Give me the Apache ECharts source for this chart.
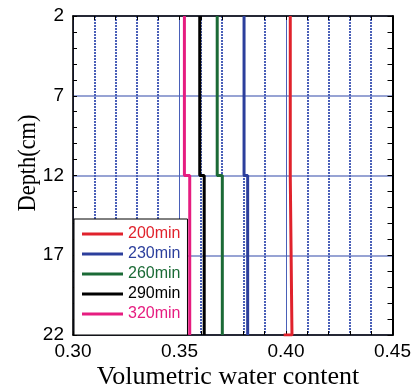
<!DOCTYPE html>
<html>
<head>
<meta charset="utf-8">
<script src="https://cdn.jsdelivr.net/npm/echarts@6/dist/echarts.min.js"></script>
<style>
  html, body { margin: 0; padding: 0; background: #fff; }
  #chart { width: 414px; height: 389px; }
</style>
</head>
<body>
<div id="chart"></div>
<script>
// Water content profiles at successive times (step profile: upper / lower layer)
const times = ['200min', '230min', '260min', '290min', '320min'];
const colors = ['#e0222c', '#2c3f9c', '#1b6a36', '#000000', '#e61d80'];
const depthBreaks = [2, 12, 22];               // cm: top, layer boundary, bottom
const upperLayer = [0.4020, 0.3803, 0.3677, 0.3595, 0.3523];  // 2–12 cm
const lowerLayer = [0.4028, 0.3820, 0.3701, 0.3616, 0.3548];  // 12–22 cm
const bottomEnd  = [0.3989, null, null, null, null];           // closing value at 22 cm

const xTicks = [0.30, 0.35, 0.40, 0.45];
const yTicks = [2, 7, 12, 17, 22];

const FONT = 'Liberation Sans, Arial, sans-serif';
const SERIF = 'Liberation Serif, Times New Roman, serif';

function profile(i) {
  const pts = [
    [upperLayer[i], depthBreaks[0]],
    [upperLayer[i], depthBreaks[1]],
    [lowerLayer[i], depthBreaks[1]],
    [lowerLayer[i], depthBreaks[2]]
  ];
  if (bottomEnd[i] != null) pts.push([bottomEnd[i], depthBreaks[2]]);
  return pts;
}

const series = times.map((t, i) => ({
  name: t,
  type: 'line',
  data: profile(i),
  showSymbol: false,
  symbol: 'none',
  lineStyle: { color: colors[i], width: 3 },
  itemStyle: { color: colors[i] },
  emphasis: { disabled: true },
  z: 3
}));

const axisLine = { show: true, onZero: false, lineStyle: { color: '#000', width: 1.6 } };

const chart = echarts.init(document.getElementById('chart'));
chart.setOption({
  animation: false,
  backgroundColor: '#fff',
  grid: { left: 73, right: 21, top: 16, bottom: 54 },
  xAxis: [
    {
      type: 'value', position: 'bottom',
      min: xTicks[0], max: xTicks[xTicks.length - 1], interval: 0.05,
      axisLine,
      axisTick: { show: true, inside: true, length: 4, lineStyle: { color: '#000' } },
      minorTick: { show: true, splitNumber: 5, length: 4, lineStyle: { color: '#000' } },
      axisLabel: { fontFamily: FONT, fontSize: 19, color: '#000', margin: 7,
                   formatter: v => v.toFixed(2) },
      splitLine: { show: true, lineStyle: { color: '#4a60b8', width: 1 } },
      minorSplitLine: { show: true, lineStyle: { color: '#4a60b8', width: 2, type: [2, 1] } }
    },
    {
      type: 'value', position: 'top',
      min: xTicks[0], max: xTicks[xTicks.length - 1], interval: 0.05,
      axisLine,
      axisTick: { show: true, inside: true, length: 4, lineStyle: { color: '#000' } },
      minorTick: { show: true, splitNumber: 5, length: 4, lineStyle: { color: '#000' } },
      axisLabel: { show: false },
      splitLine: { show: false }
    }
  ],
  yAxis: [
    {
      type: 'value', position: 'left', inverse: true,
      min: yTicks[0], max: yTicks[yTicks.length - 1], interval: 5,
      axisLine,
      axisTick: { show: true, inside: true, length: 4, lineStyle: { color: '#000' } },
      minorTick: { show: true, splitNumber: 5, length: 4, lineStyle: { color: '#000' } },
      axisLabel: { fontFamily: FONT, fontSize: 19, color: '#000', margin: 9 },
      splitLine: { show: true, lineStyle: { color: '#7485c6', width: 1.5 } }
    },
    {
      type: 'value', position: 'right', inverse: true,
      min: yTicks[0], max: yTicks[yTicks.length - 1], interval: 5,
      axisLine: { show: true, onZero: false, lineStyle: { color: '#000', width: 2 } },
      axisTick: { show: true, inside: true, length: 5, lineStyle: { color: '#000' } },
      minorTick: { show: true, splitNumber: 5, length: 5, lineStyle: { color: '#000' } },
      axisLabel: { show: false },
      splitLine: { show: false }
    }
  ],
  legend: {
    orient: 'vertical',
    left: 74, top: 219,
    padding: [5, 7, 11, 8],
    itemGap: 0,
    itemWidth: 41, itemHeight: 3,
    itemTextGap: 4,
    icon: 'rect',
    backgroundColor: '#fff',
    borderColor: '#000', borderWidth: 1,
    z: 10,
    selectedMode: false,
    textStyle: { fontFamily: FONT, fontSize: 16, lineHeight: 20 },
    data: times.map((t, i) => ({ name: t, textStyle: { color: colors[i] } }))
  },
  graphic: [
    {
      type: 'text', x: 228, y: 377,
      style: { text: 'Volumetric water content', font: '26px ' + SERIF,
               fill: '#000', align: 'center', verticalAlign: 'middle' }
    },
    {
      type: 'text', x: 28, y: 163, rotation: Math.PI / 2, scaleX: 0.86,
      style: { text: 'Depth(cm)', font: '26px ' + SERIF,
               fill: '#000', align: 'center', verticalAlign: 'middle' }
    }
  ],
  series
});
</script>
</body>
</html>
